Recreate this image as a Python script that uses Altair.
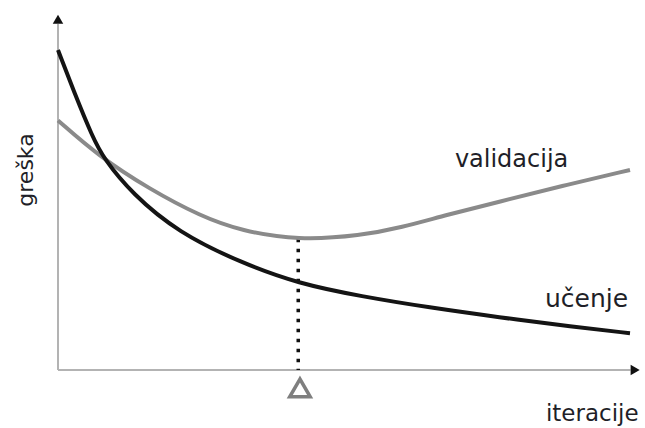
import altair as alt
import pandas as pd

# Learning curves: error vs. training iterations
train_iter = [0, 3, 6, 8, 13, 21, 32, 42, 53, 65, 77, 90, 100]
train_err = [100, 86, 73, 66, 55, 43, 33.5, 27, 23, 19.5, 16.5, 13.5, 11.5]

val_iter = [0, 7, 16, 25, 32, 42, 53, 60, 68, 77, 88, 100]
val_err = [78, 67, 56.5, 48, 43.5, 40.5, 42, 44.5, 48.5, 52.5, 57.5, 62.5]

# Early-stopping point (minimum of validation error)
best_iter = 42
best_err = 41

# Axis extents (arrow tips)
x_end = 100.9
y_end = 109.6

# Text annotations
label_text = ["validacija", "učenje"]
label_iter = [79.3, 92.4]
label_err = [63.3, 19.7]
label_size = [24, 25]

X = alt.Scale(domain=[0, 100], nice=False, zero=False)
Y = alt.Scale(domain=[0, 100], nice=False, zero=False)


def xe(field):
    return alt.X(field, type="quantitative", scale=X, axis=None)


def ye(field):
    return alt.Y(field, type="quantitative", scale=Y, axis=None)


axis_col = "#b3b3b3"
text_col = "#1f1f28"

x_axis = alt.Chart(pd.DataFrame({"i": [0], "i2": [x_end - 0.8], "e": [0]})).mark_rule(
    color=axis_col, strokeWidth=2
).encode(x=xe("i"), x2="i2", y=ye("e"))

y_axis = alt.Chart(pd.DataFrame({"i": [0], "e": [0], "e2": [y_end - 1.5]})).mark_rule(
    color=axis_col, strokeWidth=2
).encode(x=xe("i"), y=ye("e"), y2="e2")

x_arrow = alt.Chart(pd.DataFrame({"i": [x_end], "e": [0]})).mark_point(
    shape="triangle-right", filled=True, color="#111", size=110, opacity=1
).encode(x=xe("i"), y=ye("e"))

y_arrow = alt.Chart(pd.DataFrame({"i": [0], "e": [y_end]})).mark_point(
    shape="triangle-up", filled=True, color="#111", size=110, opacity=1
).encode(x=xe("i"), y=ye("e"))

val_line = alt.Chart(pd.DataFrame({"i": val_iter, "e": val_err})).mark_line(
    color="#8a8a8a", strokeWidth=4, interpolate="basis"
).encode(x=xe("i"), y=ye("e"))

train_line = alt.Chart(pd.DataFrame({"i": train_iter, "e": train_err})).mark_line(
    color="#141414", strokeWidth=4, interpolate="basis"
).encode(x=xe("i"), y=ye("e"))

stop_rule = alt.Chart(pd.DataFrame({"i": [best_iter], "e": [best_err], "e2": [0]})).mark_rule(
    color="#111", strokeWidth=3.5, strokeDash=[3.5, 6.5], strokeCap="butt"
).encode(x=xe("i"), y=ye("e"), y2="e2")

stop_marker = alt.Chart(pd.DataFrame({"i": [best_iter + 0.3], "e": [-5.6]})).mark_point(
    shape="triangle-up", filled=False, color="#7f7f7f", strokeWidth=3.5, size=420, opacity=1
).encode(x=xe("i"), y=ye("e"))

labels = alt.Chart(
    pd.DataFrame({"i": label_iter, "e": label_err, "t": label_text, "s": label_size})
).mark_text(font="DejaVu Sans", color=text_col, align="center", baseline="alphabetic").encode(
    x=xe("i"), y=ye("e"), text="t:N",
    size=alt.Size("s:Q", scale=None, legend=None),
)

x_title = alt.Chart(pd.DataFrame({"i": [93.4], "e": [-15.8], "t": ["iteracije"]})).mark_text(
    font="DejaVu Sans", fontSize=23, color=text_col, align="center", baseline="alphabetic"
).encode(x=xe("i"), y=ye("e"), text="t:N")

y_title = alt.Chart(pd.DataFrame({"i": [-5.6], "e": [62.5], "t": ["greška"]})).mark_text(
    font="DejaVu Sans", fontSize=22, color=text_col, align="center", baseline="middle", angle=270
).encode(x=xe("i"), y=ye("e"), text="t:N")

chart = alt.layer(
    x_axis, y_axis, x_arrow, y_arrow, stop_rule, val_line, train_line,
    stop_marker, labels, x_title, y_title
).properties(
    width=572,
    height=320,
    padding={"left": 58, "top": 50, "right": 15, "bottom": 58},
    autosize=alt.AutoSizeParams(type="none"),
    background="white",
).configure_view(stroke=None)

chart.save("out.html", embed_options={"renderer": "svg", "actions": False})
